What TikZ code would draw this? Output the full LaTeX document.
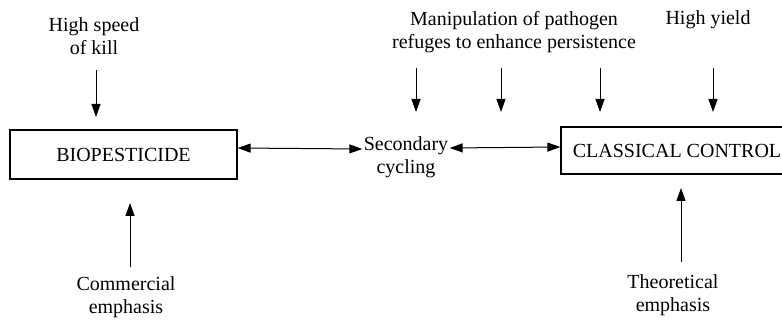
\documentclass[tikz,border=0pt]{standalone}
\usepackage{fontspec}
\setmainfont{Liberation Serif}
\usetikzlibrary{arrows.meta}
\begin{document}
\begin{tikzpicture}[x=1pt,y=-1pt,>={Triangle[length=13pt,width=9pt]},line width=1pt,
 font=\fontsize{20}{23}\selectfont,
 box/.style={draw,line width=1.2pt,inner sep=0pt},
 lbl/.style={align=center,inner sep=1pt}]
 \useasboundingbox (0,0) rectangle (782,320);
 % boxes
 \node[box,minimum width=227pt,minimum height=49pt] (bio) at (123.5,154.5) {BIOPESTICIDE};
 \node[box,minimum width=232pt,minimum height=47pt] (cc) at (677,150.5) {CLASSICAL CONTROL};
 \node[lbl] (sec) at (406,157) {Secondary\\cycling};
 % labels
 \node[lbl] (kill) at (94,36) {High speed\\of kill};
 \node[lbl] (manip) at (514,32) {Manipulation of pathogen\\refuges to enhance persistence};
 \node[lbl] (yield) at (708,20) {High yield};
 \node[lbl] (comm) at (126,297) {Commercial\\emphasis};
 \node[lbl] (theo) at (673,295) {Theoretical\\emphasis};
 % arrows
 \draw[<->] ([yshift=6.5pt]bio.east) -- ([yshift=8pt]sec.west);
 \draw[<->] ([yshift=9pt]sec.east) -- ([yshift=3.5pt]cc.west);
 \foreach \x/\a/\b in {96/70/117,416/68/112,501/68/112,600/68/112,713/68/112}{
 \coordinate (s\x) at (\x,\a); \coordinate (e\x) at (\x,\b);
 \draw[->] (s\x) -- (e\x);}
 \coordinate (c1) at (130,267); \coordinate (c2) at (130,203);
 \draw[->] (c1) -- (c2);
 \coordinate (t1) at (681,262); \coordinate (t2) at (681,188);
 \draw[->] (t1) -- (t2);
\end{tikzpicture}
\end{document}
